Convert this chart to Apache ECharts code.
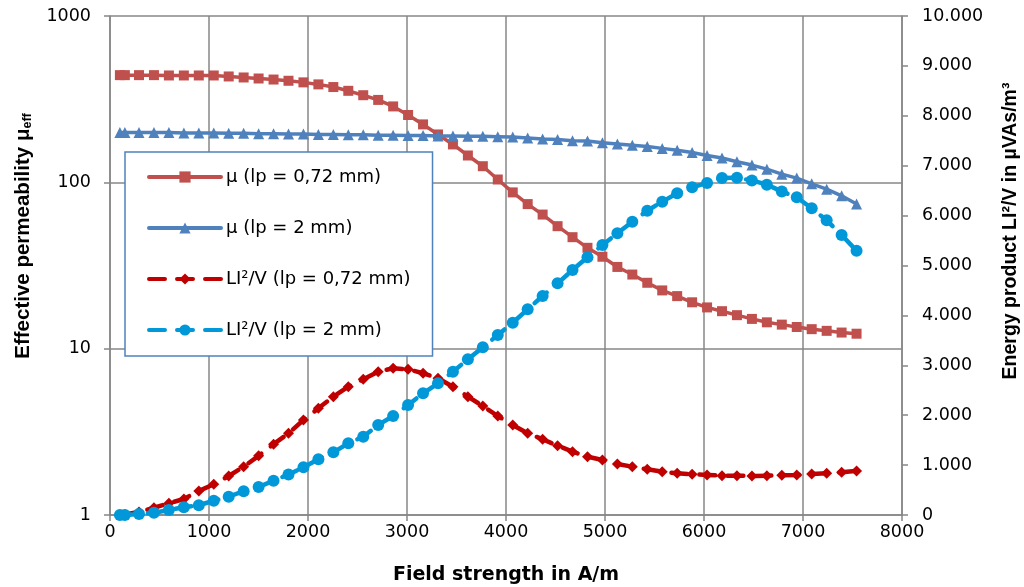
<!DOCTYPE html>
<html><head><meta charset="utf-8">
<script src="https://cdn.jsdelivr.net/npm/echarts@6/dist/echarts.min.js"></script>
<style>html,body{margin:0;padding:0;background:#fff}#chart{width:1024px;height:587px}</style>
</head><body><div id="chart"></div>
<script>
// Field strength in A/m (x positions of the measured points)
const fieldStrength = [100, 150, 293, 444, 595, 746, 897, 1048, 1199, 1350, 1501, 1652, 1803, 1954, 2105, 2256, 2407, 2558, 2709, 2860, 3011, 3162, 3313, 3464, 3615, 3766, 3917, 4068, 4219, 4370, 4521, 4672, 4823, 4974, 5125, 5276, 5427, 5578, 5729, 5880, 6031, 6182, 6333, 6484, 6635, 6786, 6937, 7088, 7239, 7390, 7541];
// Effective permeability (left, log axis)
const muLp072 = [441, 441, 441, 441, 439, 439, 439, 439, 433, 427, 421, 415, 408, 399, 388, 374, 355, 334, 313, 286, 254, 223, 194, 169, 145, 125, 104, 87, 74, 64, 54.5, 46.8, 40.4, 35.7, 31, 27.9, 24.9, 22.4, 20.7, 19, 17.7, 16.8, 15.9, 15.1, 14.4, 13.95, 13.5, 13.1, 12.8, 12.5, 12.3];
const muLp2 = [199, 199, 199, 199, 199, 198, 198, 198, 197, 197, 196, 196, 195, 195, 194, 194, 193, 193, 192, 192, 191, 191, 190, 190, 189, 189, 188, 187, 185, 182, 181, 178, 177, 173, 170, 167, 164, 160, 156, 151, 145, 140, 133, 127, 120, 112, 106, 98, 91, 83, 74];
// Energy product LI²/V in µVAs/m³ (right axis)
const energyLp072 = [0, 10, 60, 146, 234, 321, 481, 615, 782, 968, 1185, 1420, 1637, 1904, 2138, 2371, 2571, 2719, 2872, 2940, 2920, 2840, 2740, 2571, 2371, 2184, 1984, 1804, 1637, 1517, 1389, 1269, 1168, 1102, 1022, 968, 916, 868, 836, 816, 802, 788, 788, 782, 788, 795, 802, 822, 836, 855, 882];
const energyLp2 = [0, 0, 20, 46, 100, 154, 194, 287, 367, 477, 561, 687, 812, 956, 1116, 1256, 1437, 1570, 1804, 1984, 2204, 2439, 2639, 2872, 3120, 3361, 3607, 3854, 4122, 4389, 4643, 4910, 5164, 5411, 5645, 5878, 6098, 6279, 6447, 6567, 6655, 6755, 6757, 6705, 6620, 6485, 6367, 6146, 5905, 5611, 5297];

const seriesNames = ['μ (lp = 0,72 mm)', 'μ (lp = 2 mm)', 'LI²/V (lp = 0,72 mm)', 'LI²/V (lp = 2 mm)'];
const xAxisTitle = 'Field strength in A/m';
const leftTitleMain = 'Effective permeability μ';
const leftTitleSub = 'eff';
const rightTitle = 'Energy product LI²/V in µVAs/m³';

const pairs = arr => fieldStrength.map((x, i) => [x, arr[i]]);

const tickFont = '"DejaVu Sans", sans-serif';
const titleFontFamily = '"Liberation Sans", Arial, sans-serif';
const gridColor = '#878787';

const mainFont = 'bold 20.5px ' + titleFontFamily;
const subFont = 'bold 12.5px ' + titleFontFamily;
const ctx = document.createElement('canvas').getContext('2d');
ctx.font = mainFont; const wMain = ctx.measureText(leftTitleMain).width;
ctx.font = subFont; const wSub = ctx.measureText(leftTitleSub).width;
const leftCenterY = 236;
const leftStartY = leftCenterY + (wMain + wSub) / 2;

const chart = echarts.init(document.getElementById('chart'), null, {renderer: 'canvas'});
chart.setOption({
  animation: false,
  backgroundColor: '#fff',
  grid: {left: 110, right: 122, top: 16, bottom: 72, containLabel: false, outerBoundsMode: 'none'},
  legend: {
    orient: 'vertical', left: 125, top: 152,
    data: seriesNames,
    backgroundColor: '#fff', borderColor: '#4F81BD', borderWidth: 1.5, borderRadius: 0,
    padding: [16, 22, 17, 22],
    itemWidth: 72, itemHeight: 14, itemGap: 33,
    lineStyle: {width: 4},
    textStyle: {fontFamily: tickFont, fontSize: 18, color: '#000'}
  },
  xAxis: {
    type: 'value', min: 0, max: 8000, interval: 1000,
    name: xAxisTitle, nameLocation: 'middle', nameGap: 51,
    nameTextStyle: {fontFamily: tickFont, fontWeight: 'bold', fontSize: 19, color: '#000'},
    axisLine: {show: true, lineStyle: {color: gridColor, width: 1.5}},
    axisTick: {show: true, length: 6, lineStyle: {color: gridColor, width: 1.5}},
    axisLabel: {margin: 8, fontFamily: tickFont, fontSize: 17.5, color: '#000', formatter: v => String(v)},
    splitLine: {show: true, lineStyle: {color: gridColor, width: 1.5}}
  },
  yAxis: [{
    type: 'log', logBase: 10, min: 1, max: 1000,
    axisLine: {show: true, lineStyle: {color: gridColor, width: 1.5}},
    axisTick: {show: true, length: 6, lineStyle: {color: gridColor, width: 1.5}},
    axisLabel: {margin: 19, fontFamily: tickFont, fontSize: 17.5, color: '#000', formatter: v => String(Math.round(v))},
    splitLine: {show: true, lineStyle: {color: gridColor, width: 1.5}},
    minorTick: {show: false}
  }, {
    type: 'value', min: 0, max: 10000, interval: 1000, position: 'right',
    axisLine: {show: true, lineStyle: {color: gridColor, width: 1.5}},
    axisTick: {show: true, length: 6, lineStyle: {color: gridColor, width: 1.5}},
    axisLabel: {margin: 20, fontFamily: tickFont, fontSize: 17.5, color: '#000',
      formatter: v => v === 0 ? '0' : (v / 1000).toFixed(3)},
    splitLine: {show: false}
  }],
  series: [
    {name: seriesNames[0], type: 'line', yAxisIndex: 0, data: pairs(muLp072),
     symbol: 'rect', symbolSize: 10, itemStyle: {color: '#C0504D'},
     lineStyle: {color: '#C0504D', width: 3.5, cap: 'round', join: 'round'}, z: 2},
    {name: seriesNames[1], type: 'line', yAxisIndex: 0, data: pairs(muLp2),
     symbol: 'triangle', symbolSize: 11, itemStyle: {color: '#4F81BD'},
     lineStyle: {color: '#4F81BD', width: 3.5, cap: 'round', join: 'round'}, z: 3},
    {name: seriesNames[2], type: 'line', yAxisIndex: 1, data: pairs(energyLp072),
     symbol: 'diamond', symbolSize: 11, itemStyle: {color: '#C00000'},
     lineStyle: {color: '#C00000', width: 4.5, type: [16, 12], cap: 'round', join: 'round'}, z: 4},
    {name: seriesNames[3], type: 'line', yAxisIndex: 1, data: pairs(energyLp2),
     symbol: 'circle', symbolSize: 12, itemStyle: {color: '#0098D8'},
     lineStyle: {color: '#0098D8', width: 4.5, type: [16, 12], cap: 'round', join: 'round'}, z: 5}
  ],
  graphic: [
    {type: 'text', x: 23.5, y: leftStartY, rotation: Math.PI / 2,
     style: {text: leftTitleMain, font: mainFont, fill: '#000', align: 'left', verticalAlign: 'middle'}},
    {type: 'text', x: 28, y: leftStartY - wMain, rotation: Math.PI / 2,
     style: {text: leftTitleSub, font: subFont, fill: '#000', align: 'left', verticalAlign: 'middle'}},
    {type: 'text', x: 1011, y: 231, rotation: Math.PI / 2,
     style: {text: rightTitle, font: 'bold 19.5px ' + titleFontFamily, fill: '#000', align: 'center', verticalAlign: 'middle'}}
  ]
});
</script></body></html>
